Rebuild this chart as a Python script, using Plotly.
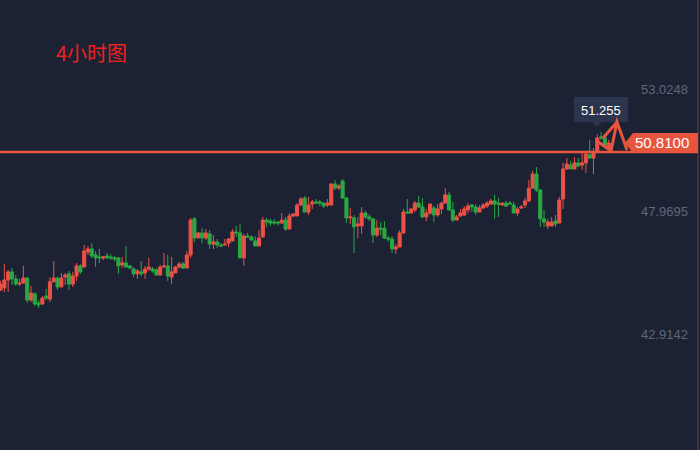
import plotly.graph_objects as go

# ---- data (4-hour candles) ----
opens = [45.11,45.20,45.53,45.86,45.57,45.36,45.40,45.61,44.70,44.95,44.58,44.54,44.87,44.74,45.45,45.61,45.24,45.65,45.78,45.36,
         45.69,46.11,46.06,46.68,46.81,46.56,46.48,46.44,46.52,46.48,46.44,46.44,46.15,46.23,46.11,45.98,45.78,45.86,45.82,45.98,
         45.98,45.94,45.73,46.06,46.11,45.65,45.82,46.06,46.19,46.02,46.56,48.05,47.26,47.47,47.26,47.43,47.01,47.10,46.97,46.97,
         47.05,47.14,47.51,47.47,46.44,47.34,47.30,47.14,46.93,47.30,48.00,47.96,47.92,47.92,47.88,48.00,47.63,48.17,48.17,48.62,
         48.91,48.33,48.66,48.75,48.75,48.70,48.62,48.62,49.49,49.32,49.61,48.91,48.09,48.09,47.76,47.76,48.29,48.13,48.05,47.38,
         47.67,47.67,47.26,47.22,46.81,46.89,47.47,48.33,48.29,48.42,48.70,48.54,48.13,48.29,48.50,48.21,48.46,48.70,49.04,48.42,
         48.00,48.17,48.21,48.42,48.62,48.54,48.33,48.50,48.58,48.66,48.79,48.70,48.62,48.70,48.70,48.62,48.29,48.50,48.62,48.79,
         49.32,49.90,49.24,48.05,47.76,47.76,47.96,47.88,48.87,50.11,50.27,50.11,50.36,50.27,50.36,50.69,50.56,50.81,51.43,51.39,
         50.98]
highs = [45.49,46.19,45.94,46.02,45.73,45.57,46.11,45.65,45.28,45.03,44.70,44.87,45.16,45.65,46.31,45.65,45.82,45.82,45.90,45.86,
         46.23,46.19,46.97,46.93,47.05,46.72,46.81,46.52,46.64,46.60,46.52,46.48,46.48,46.93,46.15,46.06,45.98,46.31,46.11,46.44,
         46.06,46.02,46.15,46.64,46.56,46.48,46.11,46.27,46.27,46.72,48.09,48.13,47.51,47.67,47.63,47.59,47.38,47.22,47.05,47.22,
         47.26,47.63,47.76,47.84,47.43,47.47,47.38,47.34,47.59,48.13,48.09,48.05,48.05,47.96,48.29,48.13,48.29,48.29,48.70,48.95,
         48.99,48.95,48.83,48.87,48.83,48.75,48.87,49.53,49.65,49.49,49.70,48.95,48.50,48.21,48.13,48.54,48.38,48.25,48.09,48.00,
         47.92,47.96,47.34,47.34,47.01,47.59,48.46,48.87,48.50,48.79,48.99,48.91,48.46,48.70,48.58,48.66,48.75,49.32,49.16,48.75,
         48.21,48.46,48.58,48.70,48.66,48.66,48.62,48.70,48.79,48.87,49.04,48.91,48.72,48.79,48.79,48.75,48.54,48.62,48.91,49.65,
         50.03,50.19,49.28,48.42,48.05,48.13,48.21,48.95,50.36,50.56,50.44,50.60,50.56,50.77,50.77,51.31,50.98,51.55,51.64,51.51,
         51.31]
lows = [45.07,45.03,45.03,45.32,45.28,45.28,45.40,44.58,44.62,44.45,44.37,44.50,44.70,44.62,45.45,45.11,45.24,45.32,45.11,45.24,
        45.49,45.78,46.06,46.56,46.44,46.06,46.23,46.35,46.39,46.35,46.31,45.78,46.02,46.06,45.98,45.65,45.57,45.69,45.57,45.90,
        45.82,45.73,45.73,46.02,45.49,45.36,45.82,46.02,45.98,46.02,46.44,47.10,47.26,47.05,47.18,46.81,46.81,46.85,46.89,46.97,
        46.89,47.14,47.30,46.44,46.11,47.30,47.14,46.93,46.93,47.30,47.72,47.76,47.80,47.76,47.84,47.55,47.63,48.13,48.17,48.58,
        48.33,48.21,48.46,48.70,48.58,48.50,48.54,48.62,49.24,49.24,48.87,47.88,47.84,46.64,47.26,47.43,48.05,47.96,47.05,47.30,
        47.38,47.22,47.10,46.64,46.60,46.89,47.43,48.29,48.29,48.33,48.50,48.09,47.96,48.21,47.92,48.13,48.25,48.70,48.38,47.92,
        48.00,48.13,48.17,48.29,48.33,48.21,48.33,48.46,48.50,48.62,48.05,48.13,48.60,48.54,48.66,48.29,48.17,48.46,48.50,48.75,
        49.32,49.16,47.72,47.72,47.63,47.76,47.72,47.88,48.46,50.07,50.11,50.11,50.19,50.07,49.94,50.52,49.90,50.81,51.31,50.98,
        50.98]
closes = [45.36,45.53,45.86,45.57,45.36,45.40,45.61,44.70,44.99,44.54,44.50,44.78,44.78,45.45,45.61,45.24,45.61,45.73,45.36,45.69,
          46.11,45.86,46.72,46.81,46.52,46.44,46.44,46.48,46.44,46.44,46.39,46.11,46.23,46.06,46.02,45.78,45.90,45.78,45.98,46.06,
          45.90,45.73,46.06,46.11,45.69,45.86,46.06,46.19,46.02,46.56,48.00,47.26,47.47,47.26,47.47,47.01,47.10,46.97,46.93,47.01,
          47.22,47.51,47.47,46.44,47.34,47.30,47.18,46.93,47.26,48.00,47.92,47.88,47.88,47.88,48.00,47.63,48.17,48.25,48.62,48.87,
          48.33,48.62,48.75,48.70,48.70,48.58,48.70,49.49,49.32,49.41,48.91,48.09,48.13,47.72,47.84,48.29,48.13,48.05,47.38,47.67,
          47.63,47.26,47.22,46.81,46.89,47.47,48.33,48.29,48.46,48.70,48.54,48.13,48.29,48.66,48.21,48.46,48.70,49.04,48.42,48.00,
          48.13,48.29,48.46,48.58,48.54,48.33,48.50,48.62,48.70,48.79,48.66,48.66,48.70,48.58,48.66,48.29,48.46,48.54,48.79,49.32,
          49.90,49.24,48.05,47.92,47.92,47.92,47.84,48.83,50.11,50.31,50.11,50.36,50.23,50.36,50.73,50.56,50.77,51.39,51.39,51.10,
          51.18]
candle_index = list(range(len(opens)))

tick_values = [53.0248, 47.9695, 42.9142]
tick_labels = ["53.0248", "47.9695", "42.9142"]
current_price = 50.81
current_label = "50.8100"
marked_price_label = "51.255"
title_text = "4小时图"

# ---- styling ----
BG = "#1c2234"
RED = "#ec5146"
GREEN = "#2aa843"
W, H = 700, 450
PLOT_W = 698


def px(x):
    return x / PLOT_W


def py(y):
    return 1 - y / H


fig = go.Figure()
fig.add_trace(go.Candlestick(
    x=candle_index, open=opens, high=highs, low=lows, close=closes,
    increasing=dict(line=dict(color=RED, width=1), fillcolor=RED),
    decreasing=dict(line=dict(color=GREEN, width=1), fillcolor=GREEN),
    whiskerwidth=0, hoverinfo="skip", showlegend=False,
))

shapes = [
    # current price line
    dict(type="line", xref="paper", yref="y", x0=0, x1=1, y0=current_price, y1=current_price,
         line=dict(color="#e8553f", width=2.6), layer="above"),
    # right border
    dict(type="line", xref="paper", yref="paper", x0=1, x1=1, y0=0, y1=1,
         line=dict(color="#7a3f36", width=1)),
    # price tag
    dict(type="path", xref="paper", yref="paper", fillcolor="#e8553f", line=dict(width=0),
         path=f"M {px(625)},{py(143)} L {px(633)},{py(133)} L {px(698)},{py(133)} L {px(698)},{py(153)} L {px(633)},{py(153)} Z"),
    # 51.255 bubble
    dict(type="path", xref="paper", yref="paper", fillcolor="#2b354d", line=dict(width=0),
         path=(f"M {px(574)},{py(97)} L {px(628)},{py(97)} L {px(628)},{py(122)} L {px(602)},{py(122)} "
               f"L {px(597)},{py(127)} L {px(592)},{py(122)} L {px(574)},{py(122)} Z")),
    # hand drawn arrow
    dict(type="path", xref="paper", yref="paper", line=dict(color="#e8553f", width=3),
         path=(f"M {px(597)},{py(141)} L {px(611)},{py(151)} L {px(617)},{py(122)} L {px(627)},{py(150)} "
               f"M {px(603)},{py(138)} L {px(617)},{py(122)}")),
]

annotations = [
    dict(text=title_text, xref="paper", yref="paper", x=px(54), y=py(53), xanchor="left", yanchor="middle",
         showarrow=False, font=dict(family="Noto Sans CJK SC", size=20, color="#f0201e")),
    dict(text=current_label, xref="paper", yref="paper", x=px(662), y=py(143), xanchor="center", yanchor="middle",
         showarrow=False, font=dict(family="Liberation Sans, Arial", size=15, color="#ffffff")),
    dict(text=marked_price_label, xref="paper", yref="paper", x=px(601), y=py(110), xanchor="center", yanchor="middle",
         showarrow=False, font=dict(family="Liberation Sans, Arial", size=13, color="#ffffff")),
]

fig.update_layout(
    width=W, height=H,
    margin=dict(l=0, r=W - PLOT_W, t=0, b=0),
    paper_bgcolor=BG, plot_bgcolor=BG,
    boxgap=0.1, boxgroupgap=0.1,
    showlegend=False,
    shapes=shapes,
    annotations=annotations,
    xaxis=dict(range=[-0.15, 183.5], visible=False, rangeslider=dict(visible=False), showgrid=False, zeroline=False),
    yaxis=dict(range=[38.511, 57.083], side="right", tickvals=tick_values, ticktext=tick_labels,
               ticklabelposition="inside top", ticklabelstandoff=7, showgrid=False, zeroline=False,
               showline=False, ticks="",
               tickfont=dict(family="Liberation Sans, Arial", size=13, color="#5f6779")),
)

fig.write_html("out.html", config={"displayModeBar": False},
               post_script="document.body.style.margin='0';document.body.style.background='%s';" % BG)
